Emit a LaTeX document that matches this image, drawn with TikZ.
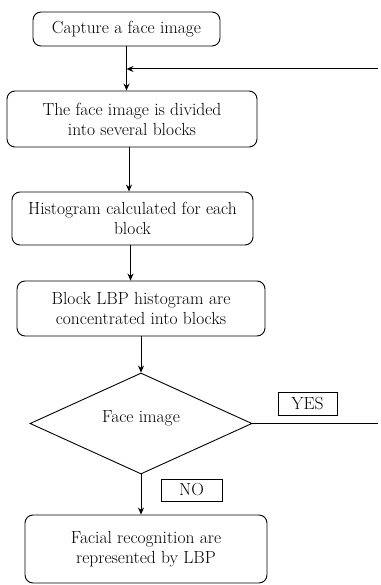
\documentclass[tikz,border=0pt]{standalone}
\usepackage{fontspec}
\newfontfamily\timesf{Liberation Serif}
\usetikzlibrary{shapes.geometric,arrows.meta}
\begin{document}
\begin{tikzpicture}[x=1pt,y=-1pt,
  every node/.style={font=\fontsize{17.5}{20}\selectfont},
  stepbox/.style={draw, line width=0.9pt, rounded corners=8pt, align=center, inner sep=0pt},
  decision/.style={draw, line width=0.9pt, diamond, aspect=2.2, inner sep=0pt, minimum width=222pt, minimum height=101pt},
  labelbox/.style={draw, line width=0.9pt, inner sep=0pt},
  arr/.style={line width=1pt, -{Stealth[length=7pt,width=6pt]}},
  plain/.style={line width=1pt}]
\useasboundingbox (0,0) rectangle (380,585);
\node[stepbox, minimum width=187pt, minimum height=34pt] (b1) at (126.5,29) {Capture a face image};
\node[stepbox, minimum width=250pt, minimum height=56pt] (b2) at (132,119) {The face image is divided\\into several blocks};
\node[stepbox, minimum width=241pt, minimum height=53pt] (b3) at (132.5,218.5) {Histogram calculated for each\\block};
\node[stepbox, minimum width=248pt, minimum height=55pt] (b4) at (141,308.5) {Block LBP histogram are\\concentrated into blocks};
\node[decision] (d) at (141,423.5) {};
\node (dt) at (141,418) {Face image};
\node[stepbox, minimum width=242pt, minimum height=68pt] (b5) at (146,549) {Facial recognition are\\represented by LBP};
\node[labelbox, minimum width=59pt, minimum height=23pt] (yes) at (307.5,403.5) {YES};
\node[labelbox, minimum width=61pt, minimum height=22pt] (no) at (191.5,490) {NO};
\coordinate (fb) at (378,69);
\coordinate (ye) at (378,423.5);
\draw[arr, line width=1.6pt] (b1.south) -- (b1.south |- b2.north);
\draw[arr] ([xshift=-3pt]b2.south) -- ([xshift=-3pt]b2.south |- b3.north);
\draw[arr] ([xshift=-2pt]b3.south) -- ([xshift=-2pt]b3.south |- b4.north);
\draw[arr] (b4.south) -- (d.north);
\draw[arr] (d.south) -- (d.south |- b5.north);
\draw[arr] (fb) -- (fb -| b1.south);
\draw[plain] (d.east) -- (ye);
\end{tikzpicture}
\end{document}
